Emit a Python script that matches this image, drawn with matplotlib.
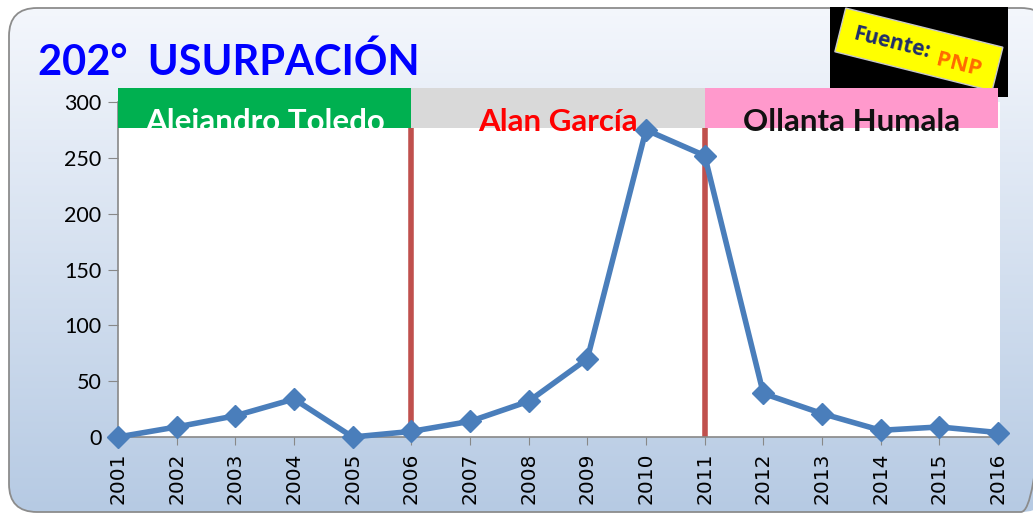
import numpy as np
import matplotlib.pyplot as plt
import matplotlib.transforms as mtransforms
from matplotlib.patches import FancyBboxPatch, Rectangle

# data
years = list(range(2001, 2017))
casos = [0, 9, 19, 34, 0, 5, 14, 32, 70, 275, 252, 39, 21, 6, 9, 4]
periodos = ['Alejandro Toledo', 'Alan García', 'Ollanta Humala']
inicio = [2001, 2006, 2011]
fin = [2006, 2011, 2016]
color_banda = ['#00b050', '#d9d9d9', '#ff99cc']
color_texto = ['white', '#ff0000', '#111111']

W, H = 1033, 519
fig = plt.figure(figsize=(W / 100, H / 100), dpi=100)
plt.rcParams['font.family'] = ['Lato', 'DejaVu Sans']

# background with rounded frame and gradient
bg = fig.add_axes([0, 0, 1, 1], zorder=-5)
bg.set_xlim(0, W)
bg.set_ylim(H, 0)
bg.axis('off')
frame = FancyBboxPatch((9, 8), 1040, 504, boxstyle='round,pad=0,rounding_size=28',
                       facecolor='none', edgecolor='#8c8c8c', lw=1.3)
bg.add_patch(frame)
grad = np.linspace(0, 1, 256).reshape(-1, 1)
top = np.array([0.96, 0.97, 0.99])
bot = np.array([0.71, 0.79, 0.89])
img = top + grad[..., None] * (bot - top)
im = bg.imshow(img, extent=[0, W, H, 0], aspect='auto', zorder=0)
im.set_clip_path(frame)

# source label
bg.add_patch(Rectangle((830, 7), 178, 90, facecolor='black', zorder=2))
lab = Rectangle((838, 27), 162, 45, facecolor='#ffff00', edgecolor='#c8c8c8', lw=1, zorder=3)
lab.set_transform(mtransforms.Affine2D().rotate_deg_around(919, 49, 14) + bg.transData)
bg.add_patch(lab)
bg.text(892, 43, 'Fuente:', color='#1f2d6b', fontsize=15, fontweight='bold',
        rotation=-14, ha='center', va='center', zorder=4, family=['Open Sans', 'DejaVu Sans'])
bg.text(959, 65, 'PNP', color='#ff6a00', fontsize=16, fontweight='bold',
        rotation=-14, ha='center', va='center', zorder=4, family=['Open Sans', 'DejaVu Sans'])

# title
bg.text(38, 62, '202°  USURPACIÓN', color='#0000ff', fontsize=30, fontweight='bold',
        ha='left', va='center', zorder=4)

# main axes
x0, x1 = 118, 1000
y0, y1 = 437, 102
ax = fig.add_axes([x0 / W, 1 - y0 / H, (x1 - x0) / W, (y0 - y1) / H])
ax.set_facecolor('white')
ax.set_xlim(2001, 2001 + 15 * (x1 - x0) / (998 - 118))
ax.set_ylim(0, 300)

for a, b, fc, tc, name in zip(inicio, fin, color_banda, color_texto, periodos):
    ax.add_patch(Rectangle((a, 276.5), b - a, 36, facecolor=fc, edgecolor='none',
                           clip_on=False, zorder=3))
    ax.text((a + b) / 2, 282, name, color=tc, fontsize=22.5, fontweight='bold',
            ha='center', va='center', zorder=4, clip_on=False)

for xv in fin[:2]:
    ax.plot([xv, xv], [0, 276.5], color='#c0504d', lw=4, zorder=2, solid_capstyle='butt')

ax.plot(years, casos, color='#4a7ebb', lw=4, marker='D', markersize=11, zorder=5, clip_on=False)

ax.set_yticks(range(0, 301, 50))
ax.set_xticks(years)
ax.set_xticklabels([str(y) for y in years], rotation=90, family='DejaVu Sans')
ax.tick_params(axis='y', labelsize=15.5, length=7, color='#888888', direction='out', pad=5)
ax.tick_params(axis='x', labelsize=14.5, length=6, color='#888888', direction='out', pad=5)
for s in ['top', 'right']:
    ax.spines[s].set_visible(False)
for s in ['left', 'bottom']:
    ax.spines[s].set_color('#888888')
    ax.spines[s].set_linewidth(1.2)

fig.savefig('out.png', dpi=100)
